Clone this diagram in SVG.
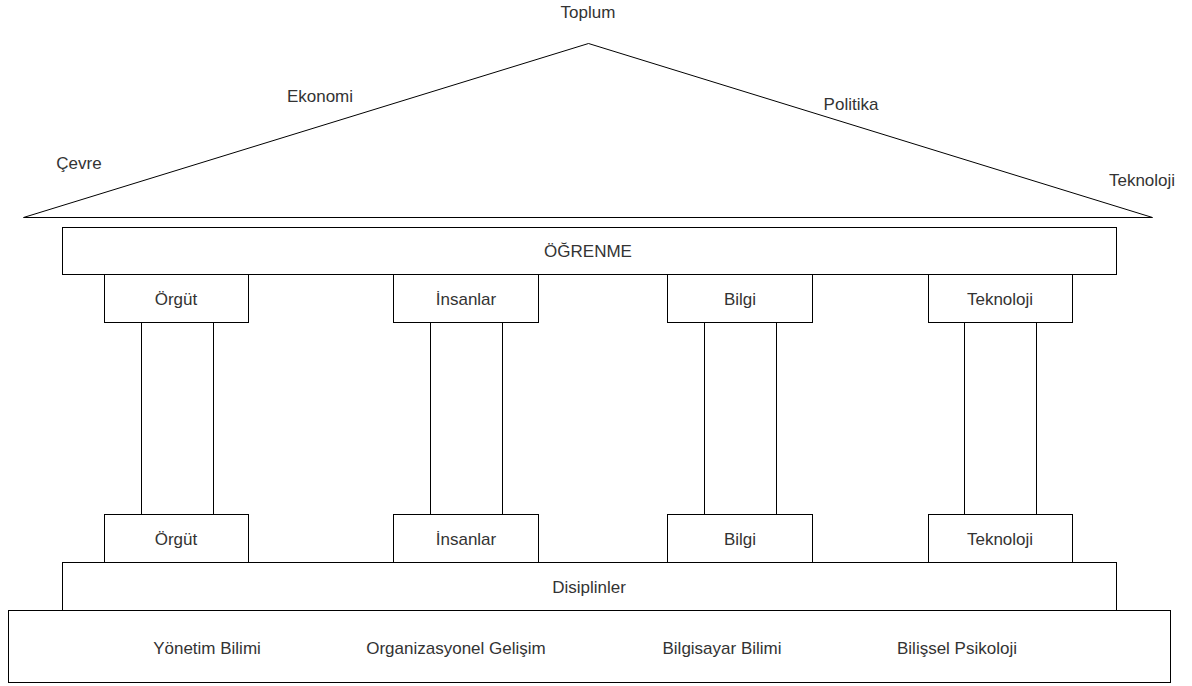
<svg xmlns="http://www.w3.org/2000/svg" width="1192" height="686" viewBox="0 0 1192 686">
  <style>
    .box { fill: #ffffff; stroke: #000000; stroke-width: 1; }
    .roof { fill: #ffffff; stroke: #000000; stroke-width: 1; stroke-linejoin: miter; }
    text { font-family: "Liberation Sans", Arial, sans-serif; font-size: 17px; fill: #333333; text-anchor: middle; dominant-baseline: central; }
  </style>
  <rect width="1192" height="686" fill="#ffffff"/>

  <!-- roof -->
  <g id="roof">
    <polygon class="roof" points="23.5,217.5 588.5,43.5 1152.5,217.5"/>
    <text x="588" y="12">Toplum</text>
    <text x="320" y="96">Ekonomi</text>
    <text x="851" y="104">Politika</text>
    <text x="79" y="163">Çevre</text>
    <text x="1142" y="180">Teknoloji</text>
  </g>

  <!-- lintel -->
  <g id="ogrenme">
    <rect class="box" x="62.5" y="227.5" width="1054" height="47"/>
    <text x="588" y="251">ÖĞRENME</text>
  </g>

  <!-- column shafts -->
  <g id="shafts">
    <rect class="box" x="141.5" y="322.5" width="72" height="192"/>
    <rect class="box" x="430.5" y="322.5" width="72" height="192"/>
    <rect class="box" x="704.5" y="322.5" width="72" height="192"/>
    <rect class="box" x="964.5" y="322.5" width="72" height="192"/>
  </g>

  <!-- capitals -->
  <g id="cap-orgut">
    <rect class="box" x="104.5" y="274.5" width="144" height="48"/>
    <text x="176" y="299">Örgüt</text>
  </g>
  <g id="cap-insanlar">
    <rect class="box" x="393.5" y="274.5" width="145" height="48"/>
    <text x="466" y="299">İnsanlar</text>
  </g>
  <g id="cap-bilgi">
    <rect class="box" x="667.5" y="274.5" width="145" height="48"/>
    <text x="740" y="299">Bilgi</text>
  </g>
  <g id="cap-teknoloji">
    <rect class="box" x="928.5" y="274.5" width="144" height="48"/>
    <text x="1000" y="299">Teknoloji</text>
  </g>

  <!-- bases -->
  <g id="base-orgut">
    <rect class="box" x="104.5" y="514.5" width="144" height="48"/>
    <text x="176" y="539">Örgüt</text>
  </g>
  <g id="base-insanlar">
    <rect class="box" x="393.5" y="514.5" width="145" height="48"/>
    <text x="466" y="539">İnsanlar</text>
  </g>
  <g id="base-bilgi">
    <rect class="box" x="667.5" y="514.5" width="145" height="48"/>
    <text x="740" y="539">Bilgi</text>
  </g>
  <g id="base-teknoloji">
    <rect class="box" x="928.5" y="514.5" width="144" height="48"/>
    <text x="1000" y="539">Teknoloji</text>
  </g>

  <!-- stylobate -->
  <g id="disiplinler">
    <rect class="box" x="62.5" y="562.5" width="1054" height="48"/>
    <text x="589" y="587">Disiplinler</text>
  </g>

  <!-- foundation -->
  <g id="foundation">
    <rect class="box" x="8.5" y="610.5" width="1162" height="72"/>
    <text x="207" y="648">Yönetim Bilimi</text>
    <text x="456" y="648">Organizasyonel Gelişim</text>
    <text x="722" y="648">Bilgisayar Bilimi</text>
    <text x="957" y="648">Bilişsel Psikoloji</text>
  </g>
</svg>
